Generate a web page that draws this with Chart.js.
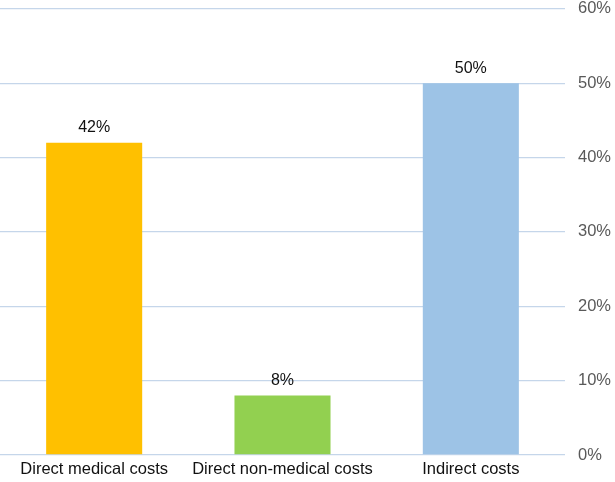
<!DOCTYPE html>
<html>
<head>
<meta charset="utf-8">
<script src="https://cdn.jsdelivr.net/npm/chart.js@4.4.0/dist/chart.umd.min.js"></script>
<style>
  html, body { margin: 0; padding: 0; background: #fff; overflow: hidden; }
  #wrap { position: absolute; left: 0; top: -14px; width: 615px; height: 496px; }
</style>
</head>
<body>
<div id="wrap"><canvas id="costChart"></canvas></div>
<script>
const categories = ["Direct medical costs", "Direct non-medical costs", "Indirect costs"];
const shares = [42, 8, 50];
const barColors = ["#FFC000", "#92D050", "#9DC3E6"];
const yTicks = [0, 10, 20, 30, 40, 50, 60];

// draws the % value above each bar
const valueLabels = {
    id: 'valueLabels',
    afterDatasetsDraw(chart) {
        const ctx = chart.ctx;
        const meta = chart.getDatasetMeta(0);
        ctx.save();
        ctx.font = '16px "Liberation Sans", Arial, sans-serif';
        ctx.fillStyle = '#111';
        ctx.textAlign = 'center';
        ctx.textBaseline = 'bottom';
        meta.data.forEach((bar, i) => {
            ctx.fillText(shares[i] + '%', bar.x, bar.y - 7);
        });
        ctx.restore();
    }
};

new Chart(document.getElementById('costChart'), {
    type: 'bar',
    data: {
        labels: categories,
        datasets: [{
            data: shares,
            backgroundColor: barColors,
            barPercentage: 0.85,
            categoryPercentage: 0.6
        }]
    },
    options: {
        responsive: true,
        maintainAspectRatio: false,
        animation: false,
        layout: { padding: { top: 0, bottom: 0, left: 0, right: 2 } },
        plugins: {
            legend: { display: false },
            tooltip: { enabled: false }
        },
        scales: {
            x: {
                grid: { display: false, drawTicks: false },
                border: { display: false },
                ticks: {
                    color: '#111',
                    font: { size: 16.5, family: '"Liberation Sans", Arial, sans-serif' },
                    padding: 5,
                    maxRotation: 0
                },
                afterFit(scale) { scale.height = 27; }
            },
            y: {
                position: 'right',
                min: 0,
                max: 60,
                afterBuildTicks(scale) {
                    scale.ticks = yTicks.map(v => ({ value: v }));
                },
                grid: { color: '#C5D6EA', lineWidth: 1.3, drawTicks: false },
                border: { display: false },
                ticks: {
                    color: '#595959',
                    font: { size: 16.5, family: '"Liberation Sans", Arial, sans-serif' },
                    padding: 13,
                    callback: v => v + '%'
                },
                afterFit(scale) { scale.width = 48; }
            }
        }
    },
    plugins: [valueLabels]
});
</script>
</body>
</html>
